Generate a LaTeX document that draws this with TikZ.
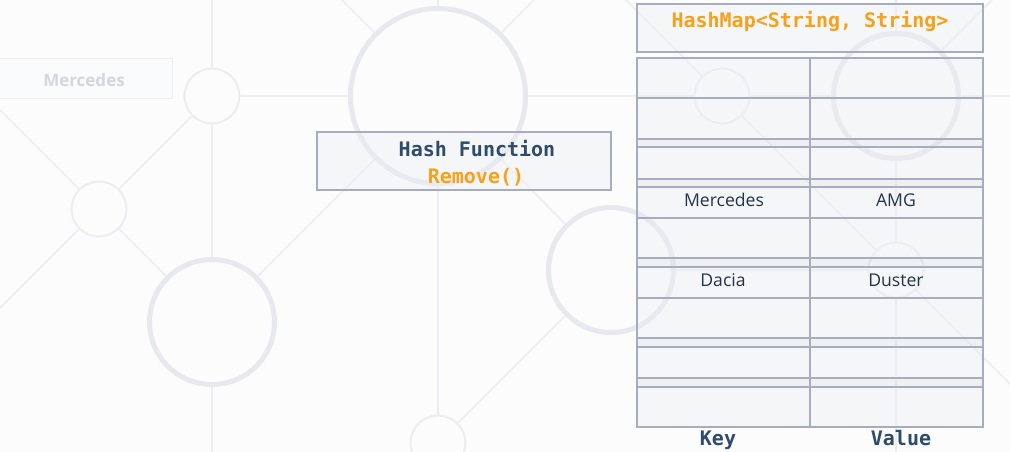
\documentclass[tikz,border=0pt]{standalone}
\usepackage{fontspec}
\setmainfont{Open Sans}
\newfontfamily\codefont{DejaVu Sans Mono}
\usepackage{xcolor}
\definecolor{bgfill}{HTML}{FCFCFD}
\definecolor{netline}{HTML}{ECEDF1}
\definecolor{netring}{HTML}{E8E9EE}
\definecolor{cellline}{HTML}{A6ADC0}
\definecolor{cellfill}{HTML}{EBEDF1}
\definecolor{bandfill}{HTML}{D9DEE1}
\definecolor{codeorange}{HTML}{F7A11A}
\definecolor{codeblue}{HTML}{2E4B6B}
\definecolor{celltext}{HTML}{243447}
\definecolor{ghostline}{HTML}{ECEEF1}
\definecolor{ghostfill}{HTML}{FAFBFC}
\definecolor{ghosttext}{HTML}{D3D7DD}
\tikzset{
  ring/.style={circle,draw=netline,line width=2pt,inner sep=0pt,minimum size=55pt},
  bigring/.style={circle,draw=netring,line width=5pt,inner sep=0pt,minimum size=125pt},
  link/.style={draw=netline,line width=1.6pt},
  cell/.style={rectangle,draw=cellline,line width=1.2pt,fill=cellfill,fill opacity=0.4,
    text opacity=1,inner sep=0pt,outer sep=0pt,anchor=north west},
  band/.style={cell,fill=bandfill},
  code/.style={font=\codefont\bfseries\fontsize{20}{24}\selectfont,inner sep=0pt,anchor=base},
  entry/.style={font=\fontsize{17.6}{21}\selectfont,text=celltext,inner sep=0pt,anchor=base}
}

\begin{document}
\begin{tikzpicture}[x=1pt,y=-1pt]
\useasboundingbox (0,0) rectangle (1010,452);
\clip (0,0) rectangle (1010,452);
\fill[bgfill] (0,0) rectangle (1010,452);
% background net
\node (s1) [ring] at (212,96) {};
\node (s2) [ring] at (99,209) {};
\node (b1) [bigring] at (212,322) {};
\node (h1) [bigring,minimum size=175pt] at (438,96) {};
\node (b2) [bigring] at (611,270) {};
\node (s3) [ring] at (438,443) {};
\node (s4) [ring] at (722,96) {};
\node (b3) [bigring] at (896,96) {};
\node (s5) [ring] at (896,270) {};
%
\coordinate (e1) at (212,-10);
\coordinate (e2) at (212,470);
\coordinate (e3) at (-20,90);
\coordinate (e4) at (-20,328);
\coordinate (e5) at (438,-10);
\coordinate (e6) at (332,-10);
\coordinate (e7) at (544,-10);
\coordinate (e8) at (616,-10);
\coordinate (e9) at (896,-10);
\coordinate (e10) at (896,470);
\coordinate (e11) at (1020,96);
\coordinate (e12) at (1002,-10);
\coordinate (e13) at (1030,404);
\foreach \a/\b in {e1/s1,s1/b1,b1/e2,s1/h1,s1/s2,s2/b1,s2/e3,s2/e4,b1/h1,
                   h1/e5,h1/s3,h1/b2,h1/e6,h1/e7,h1/s4,b2/s3,b2/s5,s4/b3,
                   s4/s5,s4/e8,b3/e9,b3/s5,s5/e10,b3/e11,b3/e12,s5/e13}
  \draw[link] (\a) -- (\b);
% faded entry
\node (ghostbox) [rectangle,draw=ghostline,fill=ghostfill,line width=1pt,inner sep=0pt,
  outer sep=0pt,minimum width=174pt,minimum height=40pt,anchor=north west] at (-2,59) {};
\node (ghostkey) [font=\bfseries\fontsize{17}{20}\selectfont,text=ghosttext,inner sep=0pt,
  anchor=base] at (84,86) {Mercedes};
% hash function
\node (fnbox) [cell,minimum width=294pt,minimum height=58pt] at (317,132) {};
\node (fnname) [code,text=codeblue] at (477,156) {Hash Function};
\node (fnop) [code,text=codeorange] at (476,183) {Remove()};
% map
\node (mapbox) [cell,minimum width=346pt,minimum height=48pt] at (637,4) {};
\node (maptype) [code,text=codeorange] at (810,28) {HashMap<String, String>};
\foreach \y/\h/\kind [count=\r] in {58/40/cell,98/41/cell,139/8/band,147/32/cell,
    179/8/band,187/31/cell,218/40/cell,258/9/band,267/31/cell,298/40/cell,
    338/9/band,347/31/cell,378/9/band,387/40/cell}{
  \node (key\r) [\kind,minimum width=173pt,minimum height=\h pt] at (637,\y) {};
  \node (val\r) [\kind,minimum width=173pt,minimum height=\h pt] at (810,\y) {};
}
\node (keymerc) [entry] at (724,206) {Mercedes};
\node (valamg) [entry] at (896,206) {AMG};
\node (keydacia) [entry] at (723,286) {Dacia};
\node (valduster) [entry] at (896,286) {Duster};
%
\node (keyhead) [code,text=codeblue] at (718,445) {Key};
\node (valhead) [code,text=codeblue] at (901,445) {Value};
\end{tikzpicture}
\end{document}
